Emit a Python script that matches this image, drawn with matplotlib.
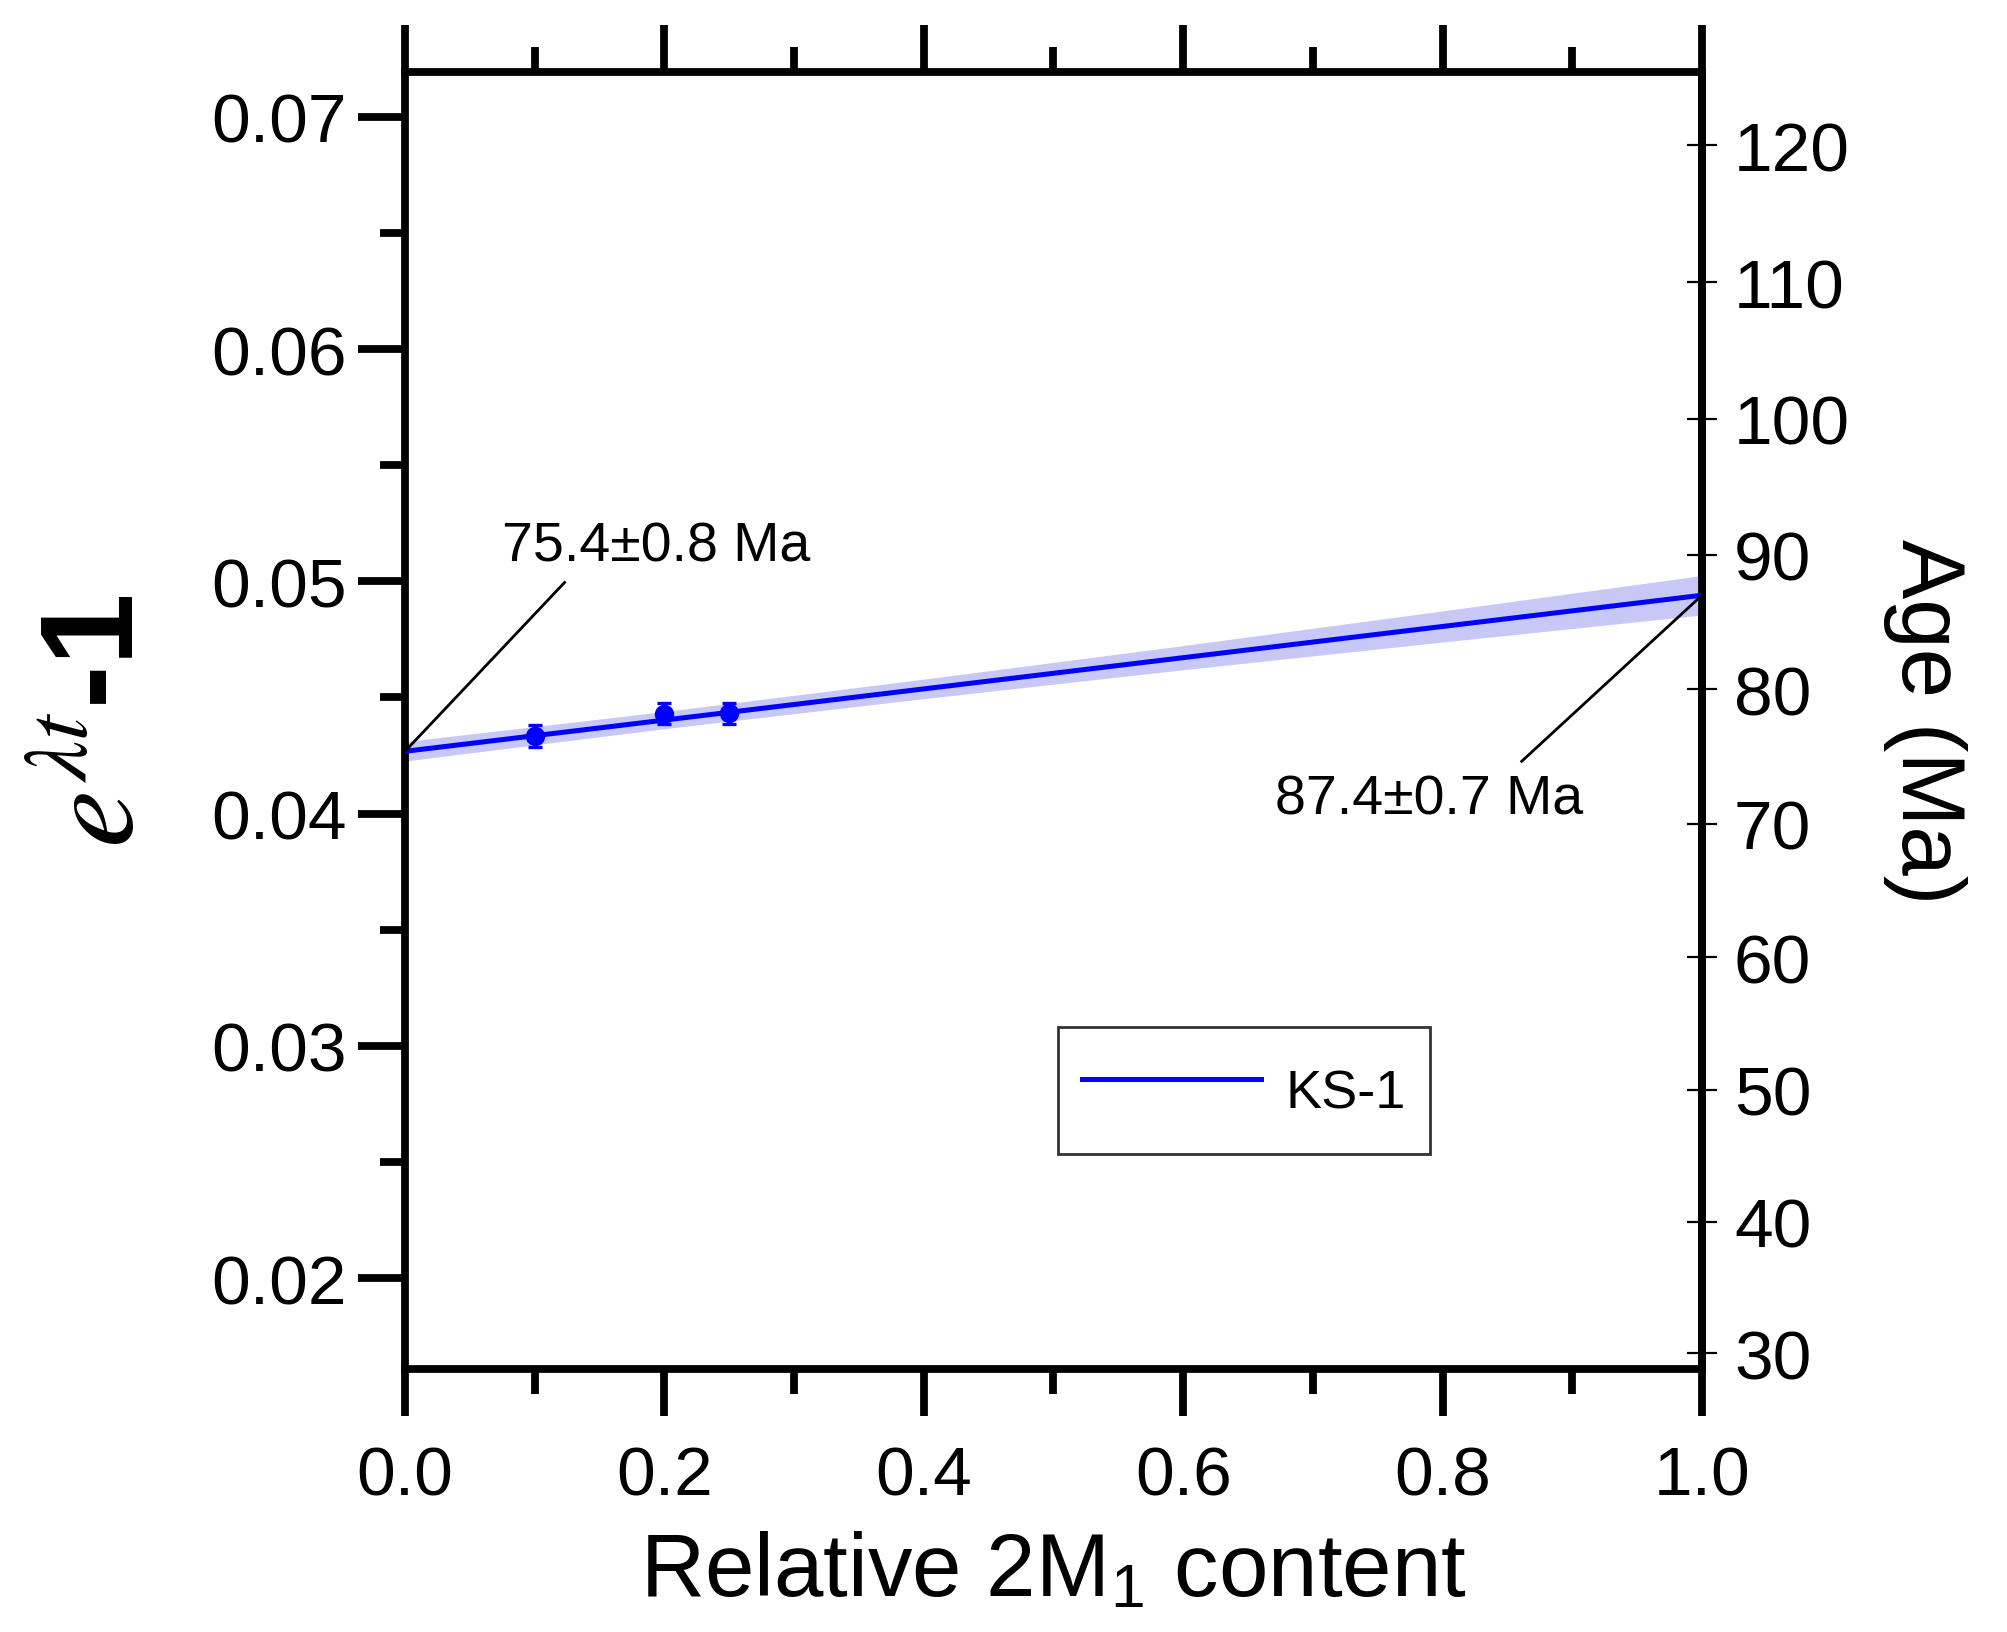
import matplotlib.pyplot as plt
import numpy as np

plt.rcParams['font.family'] = ['Liberation Sans', 'DejaVu Sans']
plt.rcParams['mathtext.fontset'] = 'stix'

# Messpunkte (relativer 2M1-Anteil, e^(lambda t)-1, Fehler)
x_data = [0.1, 0.2, 0.25]
y_data = [0.04333, 0.04429, 0.04432]
y_err = [0.00047, 0.00045, 0.00045]

# Ausgleichsgerade und Vertrauensband
fit_x = [0.0, 1.0]
fit_y = [0.04268, 0.04940]
band_x = [0.0, 0.2, 0.4, 0.6, 0.8, 1.0]
band_half = [0.00042, 0.00037, 0.00042, 0.00052, 0.00067, 0.00085]

# Beschriftungen der Achsenabschnitte
ann_texts = ['75.4\u00b10.8 Ma', '87.4\u00b10.7 Ma']
ann_xy = [(0.0, 0.04268), (1.0, 0.04940)]
ann_xytext = [(0.123, 0.04995), (0.861, 0.04225)]
ann_textpos = [(0.075, 0.0515), (0.671, 0.0406)]

age_ticks = [30, 40, 50, 60, 70, 80, 90, 100, 110, 120]
lam = 5.543e-10  # Zerfallskonstante 40K (1/a)

blue = '#0000ff'

fig = plt.figure(figsize=(10.04, 8.165), dpi=200)
ax = fig.add_axes([0.2017, 0.161, 0.6459, 0.7943])

fx = np.array(fit_x)
ax.plot(fx, fit_y, color=blue, lw=1.8, label='KS-1', zorder=3)
bx = np.array(band_x)
by = np.interp(bx, fit_x, fit_y)
ax.fill_between(bx, by - np.array(band_half), by + np.array(band_half),
                color='#c8c8f7', lw=0, zorder=1)
ax.errorbar(x_data, y_data, yerr=y_err, fmt='o', color=blue, ms=6,
            capsize=2.5, elinewidth=1.2, capthick=1.2, zorder=4)

for txt, xy, xt, tp in zip(ann_texts, ann_xy, ann_xytext, ann_textpos):
    ax.plot([xy[0], xt[0]], [xy[1], xt[1]], color='black', lw=1.0,
            clip_on=False, zorder=5)
    ax.text(tp[0], tp[1], txt, fontsize=20, va='center', ha='left')

ax.set_xlim(0, 1.0)
ax.set_ylim(0.01608, 0.07193)
ax.set_xticks(np.arange(0, 1.01, 0.2))
ax.set_xticks(np.arange(0.1, 1.0, 0.2), minor=True)
ax.set_yticks([0.02, 0.03, 0.04, 0.05, 0.06, 0.07])
ax.set_yticks(np.arange(0.025, 0.071, 0.01), minor=True)
ax.set_xticklabels(['0.0', '0.2', '0.4', '0.6', '0.8', '1.0'])
ax.set_yticklabels(['0.02', '0.03', '0.04', '0.05', '0.06', '0.07'])

for s in ax.spines.values():
    s.set_linewidth(2.8)
ax.tick_params(which='major', direction='out', length=17, width=2.8,
               labelsize=25, top=True, right=False)
ax.tick_params(which='minor', direction='out', length=9, width=2.8,
               top=True, right=False)
ax.tick_params(axis='x', which='major', pad=10)
ax.tick_params(axis='y', which='major', pad=4)

ax.set_xlabel(r'Relative 2M$_\mathregular{1}$ content', fontsize=32, labelpad=8)
ax.set_ylabel(r'$e^{\lambda t}$-1', fontsize=47, fontweight='bold',
              labelpad=18)

# Alter-Achse (rechts)
def to_age(d):
    return np.log1p(np.clip(d, -0.99, None)) / lam / 1e6

def to_d(t):
    return np.expm1(lam * np.asarray(t) * 1e6)

sec = ax.secondary_yaxis('right', functions=(to_age, to_d))
sec.set_yticks(age_ticks)
sec.spines['right'].set_linewidth(2.8)
sec.tick_params(direction='inout', length=11, width=0.8, labelsize=25, pad=6)
sec.minorticks_off()
sec.set_ylabel('Age (Ma)', fontsize=32, rotation=270, labelpad=42)

leg = ax.legend(loc='center', bbox_to_anchor=(0.647, 0.215), fontsize=19.5,
                frameon=True, fancybox=False, edgecolor='black',
                handlelength=3.3, handleheight=1.85, borderpad=0.45,
                borderaxespad=0, handletextpad=0.45)
leg.get_frame().set_linewidth(1.0)

fig.savefig('out.png', dpi=200)
